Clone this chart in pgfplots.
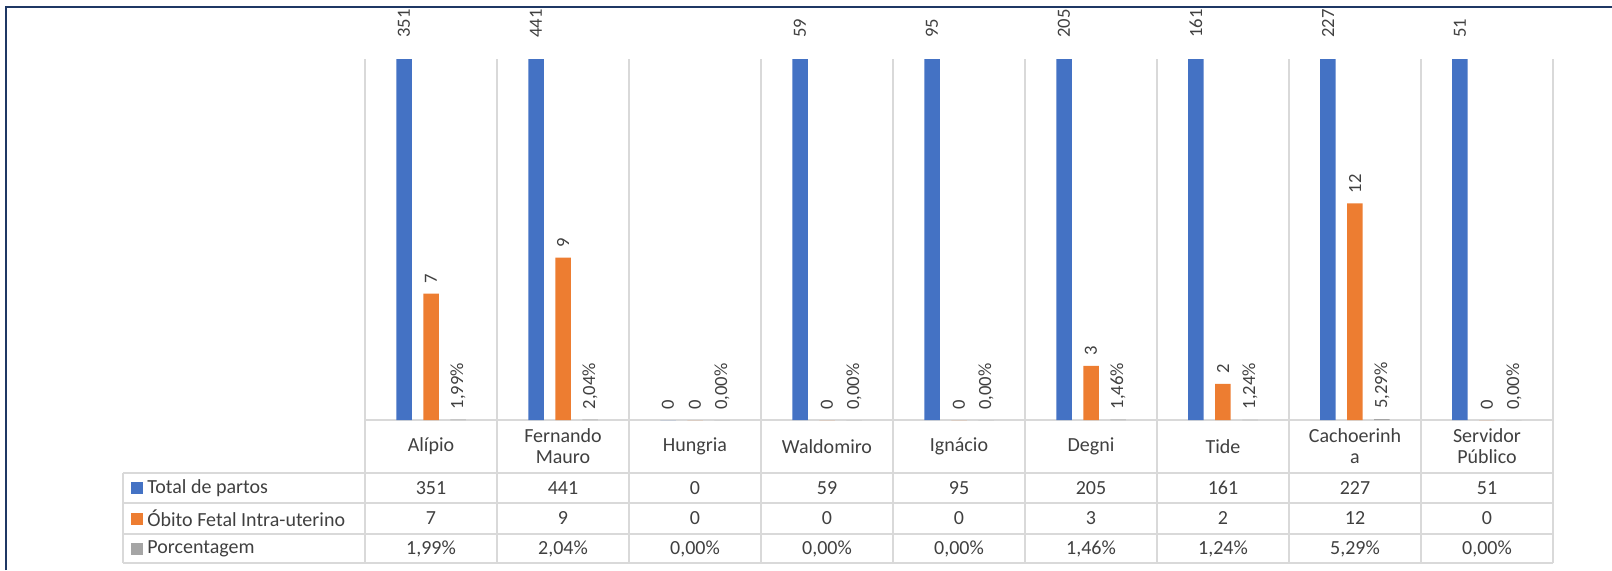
\documentclass[border=0pt]{standalone}
\usepackage{pgfplots}
\usepackage{pgfplotstable}
\pgfplotsset{compat=1.18}
\usepackage{fontspec}
\setmainfont{Carlito}
\pgfkeys{/pgf/number format/assume math mode=true}
\definecolor{cblue}{HTML}{4472C4}
\definecolor{corange}{HTML}{ED7D31}
\definecolor{cgray}{HTML}{A5A5A5}
\definecolor{textc}{HTML}{404040}
\definecolor{gridc}{HTML}{D9D9D9}
\definecolor{framec}{HTML}{1F3864}

\pgfplotstableread{
idx total obito pct
0 351 7 1.99
1 441 9 2.04
2 0 0 0.00
3 59 0 0.00
4 95 0 0.00
5 205 3 1.46
6 161 2 1.24
7 227 12 5.29
8 51 0 0.00
}\data

\begin{document}
\begin{tikzpicture}
\useasboundingbox (0,0) rectangle (806pt,285pt);
% frame
\draw[framec, line width=1.2pt] (3pt,0) -- (3pt,281.5pt) -- (806pt,281.5pt);
% grid / table lines
\begin{scope}[gridc, line width=0.6pt]
\foreach \k in {0,...,9} {
  \draw ({182.5pt+66pt*\k},255.5pt) -- ({182.5pt+66pt*\k},3.5pt);
}
\draw (182.5pt,75pt) -- (776.5pt,75pt);
\foreach \yy in {48.5pt,33.5pt,18pt,3.5pt} {
  \draw (61.5pt,\yy) -- (776.5pt,\yy);
}
\draw (61.5pt,48.5pt) -- (61.5pt,3.5pt);
\end{scope}

\begin{axis}[
  at={(182.5pt,75pt)}, anchor=south west,
  scale only axis, width=594pt, height=180.5pt,
  xmin=-0.5, xmax=8.5, ymin=0, ymax=20,
  axis line style={draw=none},
  ytick=\empty, xtick={0,...,8}, major tick length=0pt,
  xticklabels={Alípio,{Fernando\\Mauro},Hungria,Waldomiro,Ignácio,Degni,Tide,{Cachoerinh\\a},{Servidor\\Público}},
  xticklabel style={align=center, anchor=center, yshift=-13.25pt,
    font=\fontsize{10}{10.5}\selectfont, text=textc},
  clip=false,
  /pgf/number format/assume math mode=true,
  lbl/.style={every node near coord/.append style={xshift=#1, rotate=90, anchor=west,
    font=\fontsize{9.3}{10}\selectfont, text=textc, inner sep=5pt}},
]
% blue bars (clipped at the top of the plot area, as in the reference)
\addplot[ybar, bar width=7.75pt, bar shift=-13.5pt, fill=cblue, draw=none]
  table[x=idx, y expr={min(\thisrow{total},20)}] {\data};
% blue labels
\addplot[ybar, bar width=7.75pt, bar shift=-13.5pt, fill=none, draw=none,
  point meta=explicit, nodes near coords, lbl=-13.5pt]
  table[x=idx, y expr={\thisrow{total}>20 ? 20.6 : \thisrow{total}}, meta=total] {\data};
% orange
\addplot[ybar, bar width=7.75pt, bar shift=0pt, fill=corange, draw=none,
  point meta=explicit, nodes near coords, lbl=0pt]
  table[x=idx, y=obito, meta=obito] {\data};
% gray
\addplot[ybar, bar width=7.75pt, bar shift=13.5pt, fill=cgray, draw=none,
  point meta=explicit, lbl=13.5pt,
  nodes near coords={\pgfmathprintnumber[fixed, fixed zerofill, precision=2, use comma]{\pgfplotspointmeta}\%}]
  table[x=idx, y expr={\thisrow{pct}/100}, meta=pct] {\data};
\end{axis}

% data table
\begin{scope}[font=\fontsize{10}{12}\selectfont, text=textc]
\fill[cblue] (65.5pt,38pt) rectangle (71.5pt,44pt);
\fill[corange] (65.5pt,22.75pt) rectangle (71.5pt,28.75pt);
\fill[cgray] (65.5pt,7.75pt) rectangle (71.5pt,13.75pt);
\node[anchor=west, inner sep=0pt] at (73.5pt,41pt) {Total de partos};
\node[anchor=west, inner sep=0pt] at (73.5pt,25.75pt) {Óbito Fetal Intra-uterino};
\node[anchor=west, inner sep=0pt] at (73.5pt,10.75pt) {Porcentagem};
\foreach \i in {0,...,8} {
  \pgfplotstablegetelem{\i}{total}\of\data
  \node at ({215.5pt+66pt*\i},41pt) {\pgfmathprintnumber{\pgfplotsretval}};
  \pgfplotstablegetelem{\i}{obito}\of\data
  \node at ({215.5pt+66pt*\i},25.75pt) {\pgfmathprintnumber{\pgfplotsretval}};
  \pgfplotstablegetelem{\i}{pct}\of\data
  \node at ({215.5pt+66pt*\i},10.75pt) {\pgfmathprintnumber[fixed, fixed zerofill, precision=2, use comma]{\pgfplotsretval}\%};
}
\end{scope}
\end{tikzpicture}
\end{document}
